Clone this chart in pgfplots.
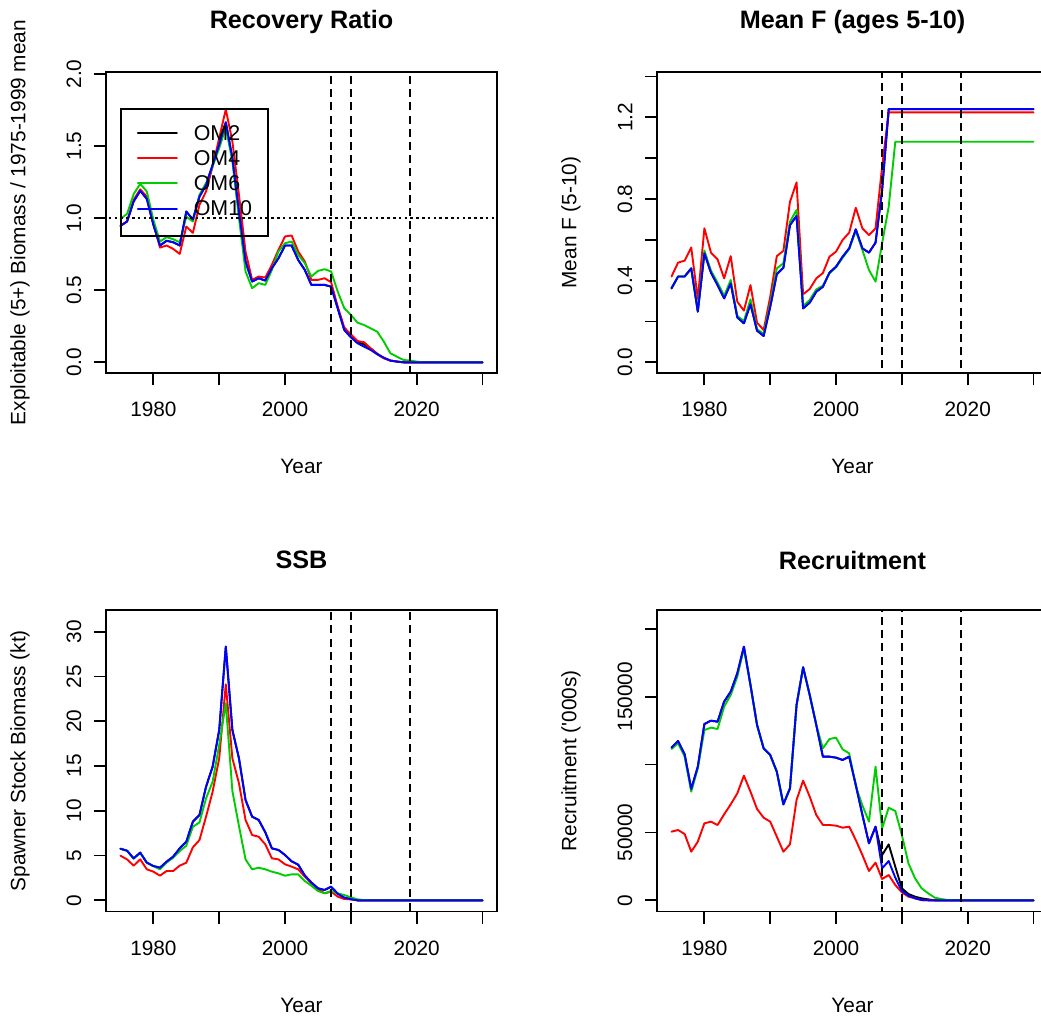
\documentclass[border=0pt]{standalone}
\usepackage{pgfplots}
\pgfplotsset{compat=1.18}
\usepackage{pgfplotstable}
\usepackage{fontspec}
\setmainfont{Liberation Sans}[Ligatures=TeXOff]

\definecolor{rgreen}{HTML}{00CD00}
\definecolor{rred}{HTML}{FF0000}
\definecolor{rblue}{HTML}{0000FF}

% Recovery ratio: exploitable (5+) biomass relative to the 1975-1999 mean
\pgfplotstableread{
year om2 om4 om6 om10
1975 0.947 0.947 0.995 0.947
1976 0.977 0.977 1.030 0.977
1977 1.116 1.127 1.167 1.116
1978 1.190 1.200 1.238 1.190
1979 1.134 1.150 1.185 1.134
1980 0.954 0.965 0.988 0.954
1981 0.810 0.796 0.838 0.810
1982 0.843 0.810 0.868 0.843
1983 0.833 0.787 0.854 0.833
1984 0.810 0.752 0.833 0.810
1985 1.046 0.942 1.010 1.046
1986 0.990 0.898 0.977 0.990
1987 1.150 1.093 1.162 1.150
1988 1.230 1.185 1.243 1.230
1989 1.370 1.359 1.359 1.370
1990 1.510 1.556 1.486 1.510
1991 1.665 1.755 1.630 1.665
1992 1.417 1.532 1.394 1.417
1993 1.046 1.162 1.000 1.046
1994 0.699 0.768 0.630 0.699
1995 0.560 0.572 0.514 0.560
1996 0.583 0.595 0.549 0.583
1997 0.567 0.588 0.537 0.567
1998 0.653 0.676 0.641 0.653
1999 0.722 0.780 0.769 0.722
2000 0.810 0.873 0.826 0.810
2001 0.810 0.880 0.838 0.810
2002 0.710 0.769 0.745 0.710
2003 0.641 0.699 0.688 0.641
2004 0.537 0.572 0.595 0.537
2005 0.537 0.572 0.634 0.537
2006 0.537 0.583 0.646 0.537
2007 0.525 0.556 0.630 0.525
2008 0.375 0.387 0.491 0.375
2009 0.225 0.241 0.375 0.225
2010 0.174 0.194 0.329 0.174
2011 0.140 0.148 0.275 0.132
2012 0.125 0.139 0.259 0.109
2013 0.097 0.097 0.236 0.086
2014 0.060 0.056 0.213 0.056
2015 0.030 0.028 0.144 0.032
2016 0.012 0.012 0.063 0.012
2017 0.005 0.005 0.039 0.005
2018 0 0 0.016 0
2019 0 0 0.012 0
2020 0 0 0.005 0
2021 0 0 0 0
2022 0 0 0 0
2023 0 0 0 0
2024 0 0 0 0
2025 0 0 0 0
2026 0 0 0 0
2027 0 0 0 0
2028 0 0 0 0
2029 0 0 0 0
2030 0 0 0 0
}\rrtab

% Mean fishing mortality, ages 5-10
\pgfplotstableread{
year om2 om4 om6 om10
1975 0.362 0.420 0.362 0.362
1976 0.420 0.488 0.420 0.420
1977 0.420 0.498 0.420 0.420
1978 0.460 0.562 0.460 0.460
1979 0.248 0.310 0.256 0.248
1980 0.534 0.656 0.547 0.534
1981 0.439 0.537 0.449 0.439
1982 0.378 0.504 0.390 0.378
1983 0.313 0.411 0.325 0.313
1984 0.387 0.520 0.403 0.387
1985 0.220 0.297 0.227 0.220
1986 0.191 0.253 0.202 0.191
1987 0.285 0.378 0.308 0.285
1988 0.155 0.194 0.162 0.155
1989 0.129 0.158 0.139 0.129
1990 0.272 0.321 0.285 0.272
1991 0.432 0.520 0.460 0.432
1992 0.463 0.546 0.485 0.463
1993 0.672 0.786 0.689 0.672
1994 0.717 0.881 0.746 0.717
1995 0.264 0.333 0.276 0.264
1996 0.292 0.359 0.305 0.292
1997 0.346 0.411 0.357 0.346
1998 0.370 0.437 0.375 0.370
1999 0.439 0.517 0.435 0.439
2000 0.468 0.542 0.465 0.468
2001 0.517 0.599 0.512 0.517
2002 0.558 0.635 0.555 0.558
2003 0.651 0.757 0.644 0.651
2004 0.558 0.656 0.550 0.558
2005 0.537 0.623 0.452 0.537
2006 0.586 0.656 0.395 0.586
2007 0.844 0.958 0.583 0.844
2008 1.240 1.224 0.762 1.240
2009 1.240 1.224 1.080 1.240
2010 1.240 1.224 1.080 1.240
2011 1.240 1.224 1.080 1.240
2012 1.240 1.224 1.080 1.240
2013 1.240 1.224 1.080 1.240
2014 1.240 1.224 1.080 1.240
2015 1.240 1.224 1.080 1.240
2016 1.240 1.224 1.080 1.240
2017 1.240 1.224 1.080 1.240
2018 1.240 1.224 1.080 1.240
2019 1.240 1.224 1.080 1.240
2020 1.240 1.224 1.080 1.240
2021 1.240 1.224 1.080 1.240
2022 1.240 1.224 1.080 1.240
2023 1.240 1.224 1.080 1.240
2024 1.240 1.224 1.080 1.240
2025 1.240 1.224 1.080 1.240
2026 1.240 1.224 1.080 1.240
2027 1.240 1.224 1.080 1.240
2028 1.240 1.224 1.080 1.240
2029 1.240 1.224 1.080 1.240
2030 1.240 1.224 1.080 1.240
}\ftab

% Spawner stock biomass (kt)
\pgfplotstableread{
year om2 om4 om6 om10
1975 5.76 4.98 5.76 5.76
1976 5.54 4.57 5.54 5.54
1977 4.68 3.87 4.68 4.68
1978 5.32 4.57 5.32 5.32
1979 4.20 3.46 4.20 4.20
1980 3.83 3.20 3.83 3.83
1981 3.64 2.75 3.46 3.64
1982 4.31 3.27 4.20 4.31
1983 4.87 3.27 4.76 4.87
1984 5.80 3.87 5.50 5.80
1985 6.55 4.20 6.10 6.55
1986 8.78 5.92 8.22 8.78
1987 9.53 6.73 8.70 9.53
1988 12.69 9.34 11.39 12.69
1989 14.93 12.13 13.25 14.93
1990 19.02 15.86 17.35 19.02
1991 28.33 24.12 22.00 28.33
1992 19.02 15.86 12.20 19.02
1993 15.86 13.07 8.30 15.86
1994 11.20 8.97 4.57 11.20
1995 9.34 7.29 3.46 9.34
1996 8.97 7.10 3.64 8.97
1997 7.60 6.25 3.46 7.60
1998 5.80 4.69 3.20 5.80
1999 5.62 4.57 3.01 5.62
2000 5.06 4.02 2.75 5.06
2001 4.35 3.76 2.90 4.35
2002 3.98 3.46 2.90 3.98
2003 2.77 2.64 2.15 2.77
2004 1.99 1.90 1.63 1.99
2005 1.34 1.26 1.04 1.34
2006 1.15 0.78 0.78 1.15
2007 1.52 0.96 1.04 1.52
2008 0.74 0.41 0.78 0.74
2009 0.29 0.15 0.59 0.29
2010 0.13 0.10 0.33 0.13
2011 0 0 0.11 0
2012 0 0 0.03 0
2013 0 0 0 0
2014 0 0 0 0
2015 0 0 0 0
2016 0 0 0 0
2017 0 0 0 0
2018 0 0 0 0
2019 0 0 0 0
2020 0 0 0 0
2021 0 0 0 0
2022 0 0 0 0
2023 0 0 0 0
2024 0 0 0 0
2025 0 0 0 0
2026 0 0 0 0
2027 0 0 0 0
2028 0 0 0 0
2029 0 0 0 0
2030 0 0 0 0
}\ssbtab

% Recruitment ('000s)
\pgfplotstableread{
year om2 om4 om6 om10
1975 112440 50570 111450 112440
1976 117350 51800 115700 117350
1977 107530 48850 105800 107530
1978 81990 35830 80030 81990
1979 98440 43200 97200 98440
1980 129880 56710 125450 129880
1981 132340 57940 127200 132340
1982 131600 55480 126200 131600
1983 146340 63340 142660 146340
1984 153700 70700 151250 153700
1985 167210 78810 164750 167210
1986 186860 91830 185600 186860
1987 158620 80030 158620 158620
1988 129150 67260 129150 129150
1989 111950 60880 111950 111950
1990 107060 57940 107060 107060
1991 94770 46890 94770 94770
1992 70700 35830 70700 70700
1993 82490 41230 82490 82490
1994 143880 73900 143880 143880
1995 171630 88170 171630 171630
1996 151250 76370 151250 151250
1997 129150 62850 129150 129150
1998 105830 55480 111950 105830
1999 105830 55480 118830 105830
2000 105090 54990 119810 105090
2001 103370 53510 111210 103370
2002 105830 54250 108270 105830
2003 85000 44430 84000 85000
2004 63000 33380 70000 63000
2005 41970 21590 57940 41970
2006 54250 27730 98440 54250
2007 33340 15690 53020 23550
2008 41200 18640 68250 28950
2009 24770 11270 65800 16670
2010 8820 5870 48120 6850
2011 4640 2680 27260 3410
2012 2680 1450 16210 1450
2013 1450 200 8840 200
2014 700 0 5130 0
2015 0 0 1940 0
2016 0 0 960 0
2017 0 0 200 0
2018 0 0 0 0
2019 0 0 0 0
2020 0 0 0 0
2021 0 0 0 0
2022 0 0 0 0
2023 0 0 0 0
2024 0 0 0 0
2025 0 0 0 0
2026 0 0 0 0
2027 0 0 0 0
2028 0 0 0 0
2029 0 0 0 0
2030 0 0 0 0
}\rectab

\newcommand{\basefont}{\fontsize{10.4bp}{12.5bp}\selectfont}

\pgfplotsset{
  rpanel/.style={
    scale only axis, width=195.5bp, height=150.75bp,
    anchor=south west,
    xmin=1972.8, xmax=2032.2,
    xtick={1980,1990,2000,2010,2020,2030},
    xticklabels={1980,,2000,,2020,},
    axis line style={line width=0.9bp, black},
    every tick/.style={line width=0.9bp, black},
    tick align=outside, major tick length=6bp,
    xtick pos=bottom, ytick pos=left,
    font=\basefont,
    xticklabel style={font=\basefont, anchor=center, yshift=-12.2bp},
    yticklabel style={font=\basefont, xshift=-10bp, rotate=90, anchor=center},
    xlabel={Year},
    xlabel style={font=\basefont, at={(axis description cs:0.5,-0.3104)}, anchor=center},
    ylabel style={font=\basefont, at={(axis description cs:-0.2199,0.5)}, anchor=center},
    every axis title/.style={font=\bfseries\fontsize{12.6bp}{15bp}\selectfont,
      at={(axis description cs:0.5,1.1658)}, anchor=center},
    clip=true,
  },
  dl/.style={line width=0.95bp, line join=round, line cap=round},
  vref/.style={black, line width=0.95bp, dash pattern=on 4bp off 2.6bp, forget plot},
}

\begin{document}
\begin{tikzpicture}
\fill[white] (0,0) rectangle (520.5bp,-510.5bp);

% ---- Recovery ratio ----
\begin{axis}[rpanel, at={(53bp,-186.65bp)},
  title={Recovery Ratio},
  ylabel={Exploitable (5+) Biomass / 1975-1999 mean},
  ymin=-0.0763, ymax=2.0153,
  ytick={0,0.5,1,1.5,2}, yticklabels={0.0,0.5,1.0,1.5,2.0},
  legend cell align=left,
  legend image code/.code={\draw[#1] (0bp,0.9bp) -- (19.5bp,0.9bp);},
  legend style={at={(axis description cs:0.0358,0.88)}, anchor=north west,
    draw=black, line width=0.9bp, fill=none,
    inner xsep=8bp, inner ysep=8.1bp, row sep=3.25bp, column sep=8bp,
    font=\fontsize{10.7bp}{12.5bp}\selectfont,
    nodes={inner sep=0bp, text height=7.5bp, text depth=1.9bp}},
]
\addplot[black, dl] table[x=year, y=om2] {\rrtab};
\addplot[rred, dl] table[x=year, y=om4] {\rrtab};
\addplot[rgreen, dl] table[x=year, y=om6] {\rrtab};
\addplot[rblue, dl] table[x=year, y=om10] {\rrtab};
\legend{OM2,OM4,OM6,OM10}
\addplot[black, line width=0.95bp, dash pattern=on 1.3bp off 1.6bp, forget plot] coordinates {(1960,1) (2040,1)};
\addplot[vref] coordinates {(2007,-1) (2007,3)};
\addplot[vref] coordinates {(2010,-1) (2010,3)};
\addplot[vref] coordinates {(2019,-1) (2019,3)};
\end{axis}

% ---- Mean F ----
\begin{axis}[rpanel, at={(328.5bp,-186.65bp)},
  title={Mean F (ages 5-10)},
  ylabel={Mean F (5-10)},
  ymin=-0.0539, ymax=1.4226,
  ytick={0,0.2,0.4,0.6,0.8,1.0,1.2,1.4},
  yticklabels={0.0,,0.4,,0.8,,1.2,},
]
\addplot[black, dl] table[x=year, y=om2] {\ftab};
\addplot[rred, dl] table[x=year, y=om4] {\ftab};
\addplot[rgreen, dl] table[x=year, y=om6] {\ftab};
\addplot[rblue, dl] table[x=year, y=om10] {\ftab};
\addplot[vref] coordinates {(2007,-1) (2007,3)};
\addplot[vref] coordinates {(2010,-1) (2010,3)};
\addplot[vref] coordinates {(2019,-1) (2019,3)};
\end{axis}

% ---- SSB ----
\begin{axis}[rpanel, at={(53bp,-455.75bp)},
  title={SSB},
  ylabel={Spawner Stock Biomass (kt)},
  ymin=-1.251, ymax=32.42,
  ytick={0,5,10,15,20,25,30}, yticklabels={0,5,10,15,20,25,30},
]
\addplot[black, dl] table[x=year, y=om2] {\ssbtab};
\addplot[rred, dl] table[x=year, y=om4] {\ssbtab};
\addplot[rgreen, dl] table[x=year, y=om6] {\ssbtab};
\addplot[rblue, dl] table[x=year, y=om10] {\ssbtab};
\addplot[vref] coordinates {(2007,-10) (2007,50)};
\addplot[vref] coordinates {(2010,-10) (2010,50)};
\addplot[vref] coordinates {(2019,-10) (2019,50)};
\end{axis}

% ---- Recruitment ----
\begin{axis}[rpanel, at={(328.5bp,-455.75bp)},
  title={Recruitment},
  ylabel={Recruitment ('000s)},
  ymin=-8251, ymax=213865,
  scaled y ticks=false,
  ytick={0,50000,100000,150000,200000},
  yticklabels={0,50000,,150000,},
]
\addplot[black, dl] table[x=year, y=om2] {\rectab};
\addplot[rred, dl] table[x=year, y=om4] {\rectab};
\addplot[rgreen, dl] table[x=year, y=om6] {\rectab};
\addplot[rblue, dl] table[x=year, y=om10] {\rectab};
\addplot[vref] coordinates {(2007,-50000) (2007,300000)};
\addplot[vref] coordinates {(2010,-50000) (2010,300000)};
\addplot[vref] coordinates {(2019,-50000) (2019,300000)};
\end{axis}

\pgfresetboundingbox
\path[use as bounding box] (0,0) rectangle (520.5bp,-510.5bp);
\end{tikzpicture}
\end{document}
